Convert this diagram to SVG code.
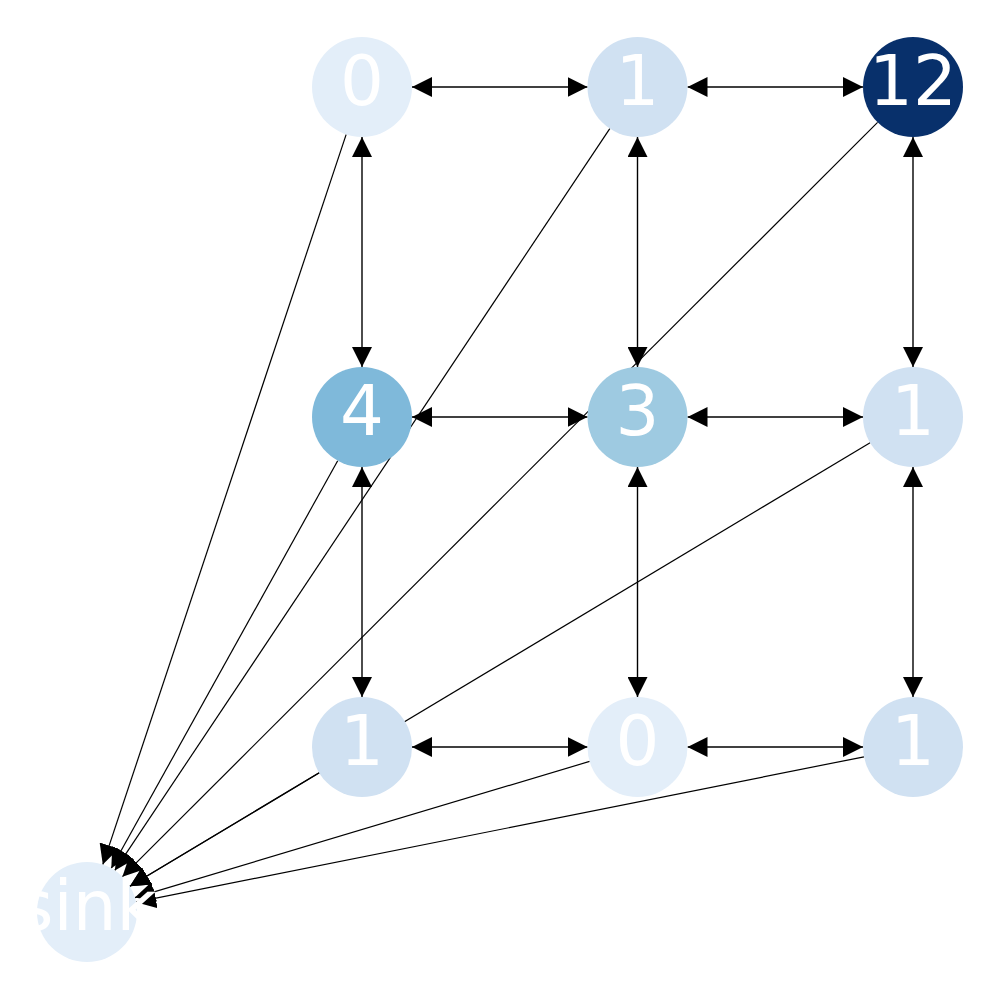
<svg xmlns="http://www.w3.org/2000/svg" width="1000" height="1000" viewBox="0 0 1000 1000">
  <style>
    .edge { stroke: #000; stroke-width: 1.4; fill: none; }
    .grid { marker-start: url(#head); marker-end: url(#head); }
    .tosink { stroke-width: 1.2; marker-end: url(#head); }
    .node text { font-family: "DejaVu Sans", sans-serif; font-size: 69px; fill: #fff; text-anchor: middle; }
    .v0 { fill: #e3eef9; }
    .v1 { fill: #d0e1f2; }
    .v3 { fill: #9ecae1; }
    .v4 { fill: #7fb9da; }
    .v12 { fill: #08306b; }
  </style>
  <defs>
    <marker id="head" markerUnits="userSpaceOnUse" viewBox="0 0 20 20" markerWidth="20" markerHeight="20" refX="20" refY="10" orient="auto-start-reverse">
      <path d="M0,0 L20,10 L0,20 z" fill="#000"/>
    </marker>
  </defs>
  <rect width="1000" height="1000" fill="#fff"/>

  <g id="edges">
    <!-- bidirectional grid links -->
    <line class="edge grid" x1="412" y1="87" x2="587.5" y2="87"/>
    <line class="edge grid" x1="687.5" y1="87" x2="863" y2="87"/>
    <line class="edge grid" x1="412" y1="417" x2="587.5" y2="417"/>
    <line class="edge grid" x1="687.5" y1="417" x2="863" y2="417"/>
    <line class="edge grid" x1="412" y1="747" x2="587.5" y2="747"/>
    <line class="edge grid" x1="687.5" y1="747" x2="863" y2="747"/>
    <line class="edge grid" x1="362" y1="137" x2="362" y2="367"/>
    <line class="edge grid" x1="362" y1="467" x2="362" y2="697"/>
    <line class="edge grid" x1="637.5" y1="137" x2="637.5" y2="367"/>
    <line class="edge grid" x1="637.5" y1="467" x2="637.5" y2="697"/>
    <line class="edge grid" x1="913" y1="137" x2="913" y2="367"/>
    <line class="edge grid" x1="913" y1="467" x2="913" y2="697"/>
    <!-- boundary cells drain into the sink -->
    <line class="edge tosink" x1="346.2" y1="134.4" x2="102.8" y2="864.6"/>
    <line class="edge tosink" x1="609.8" y1="128.6" x2="114.8" y2="870.4"/>
    <line class="edge tosink" x1="877.6" y1="122.3" x2="122.4" y2="876.7"/>
    <line class="edge tosink" x1="337.7" y1="460.7" x2="111.3" y2="868.3"/>
    <line class="edge tosink" x1="870.1" y1="442.7" x2="129.9" y2="886.3"/>
    <line class="edge tosink" x1="319.1" y1="772.7" x2="129.9" y2="886.3"/>
    <line class="edge tosink" x1="589.6" y1="761.4" x2="134.9" y2="897.6"/>
    <line class="edge tosink" x1="864.0" y1="756.8" x2="136.0" y2="902.2"/>
  </g>

  <g id="n00" class="node"><circle class="v0" cx="362" cy="87" r="50"/><text x="362" y="105">0</text></g>
  <g id="n01" class="node"><circle class="v1" cx="637.5" cy="87" r="50"/><text x="637.5" y="105">1</text></g>
  <g id="n02" class="node"><circle class="v12" cx="913" cy="87" r="50"/><text x="913" y="105">12</text></g>
  <g id="n10" class="node"><circle class="v4" cx="362" cy="417" r="50"/><text x="362" y="435">4</text></g>
  <g id="n11" class="node"><circle class="v3" cx="637.5" cy="417" r="50"/><text x="637.5" y="435">3</text></g>
  <g id="n12" class="node"><circle class="v1" cx="913" cy="417" r="50"/><text x="913" y="435">1</text></g>
  <g id="n20" class="node"><circle class="v1" cx="362" cy="747" r="50"/><text x="362" y="765">1</text></g>
  <g id="n21" class="node"><circle class="v0" cx="637.5" cy="747" r="50"/><text x="637.5" y="765">0</text></g>
  <g id="n22" class="node"><circle class="v1" cx="913" cy="747" r="50"/><text x="913" y="765">1</text></g>
  <g id="sink" class="node"><circle class="v0" cx="87" cy="912" r="50"/><text x="87" y="930">sink</text></g>
</svg>
